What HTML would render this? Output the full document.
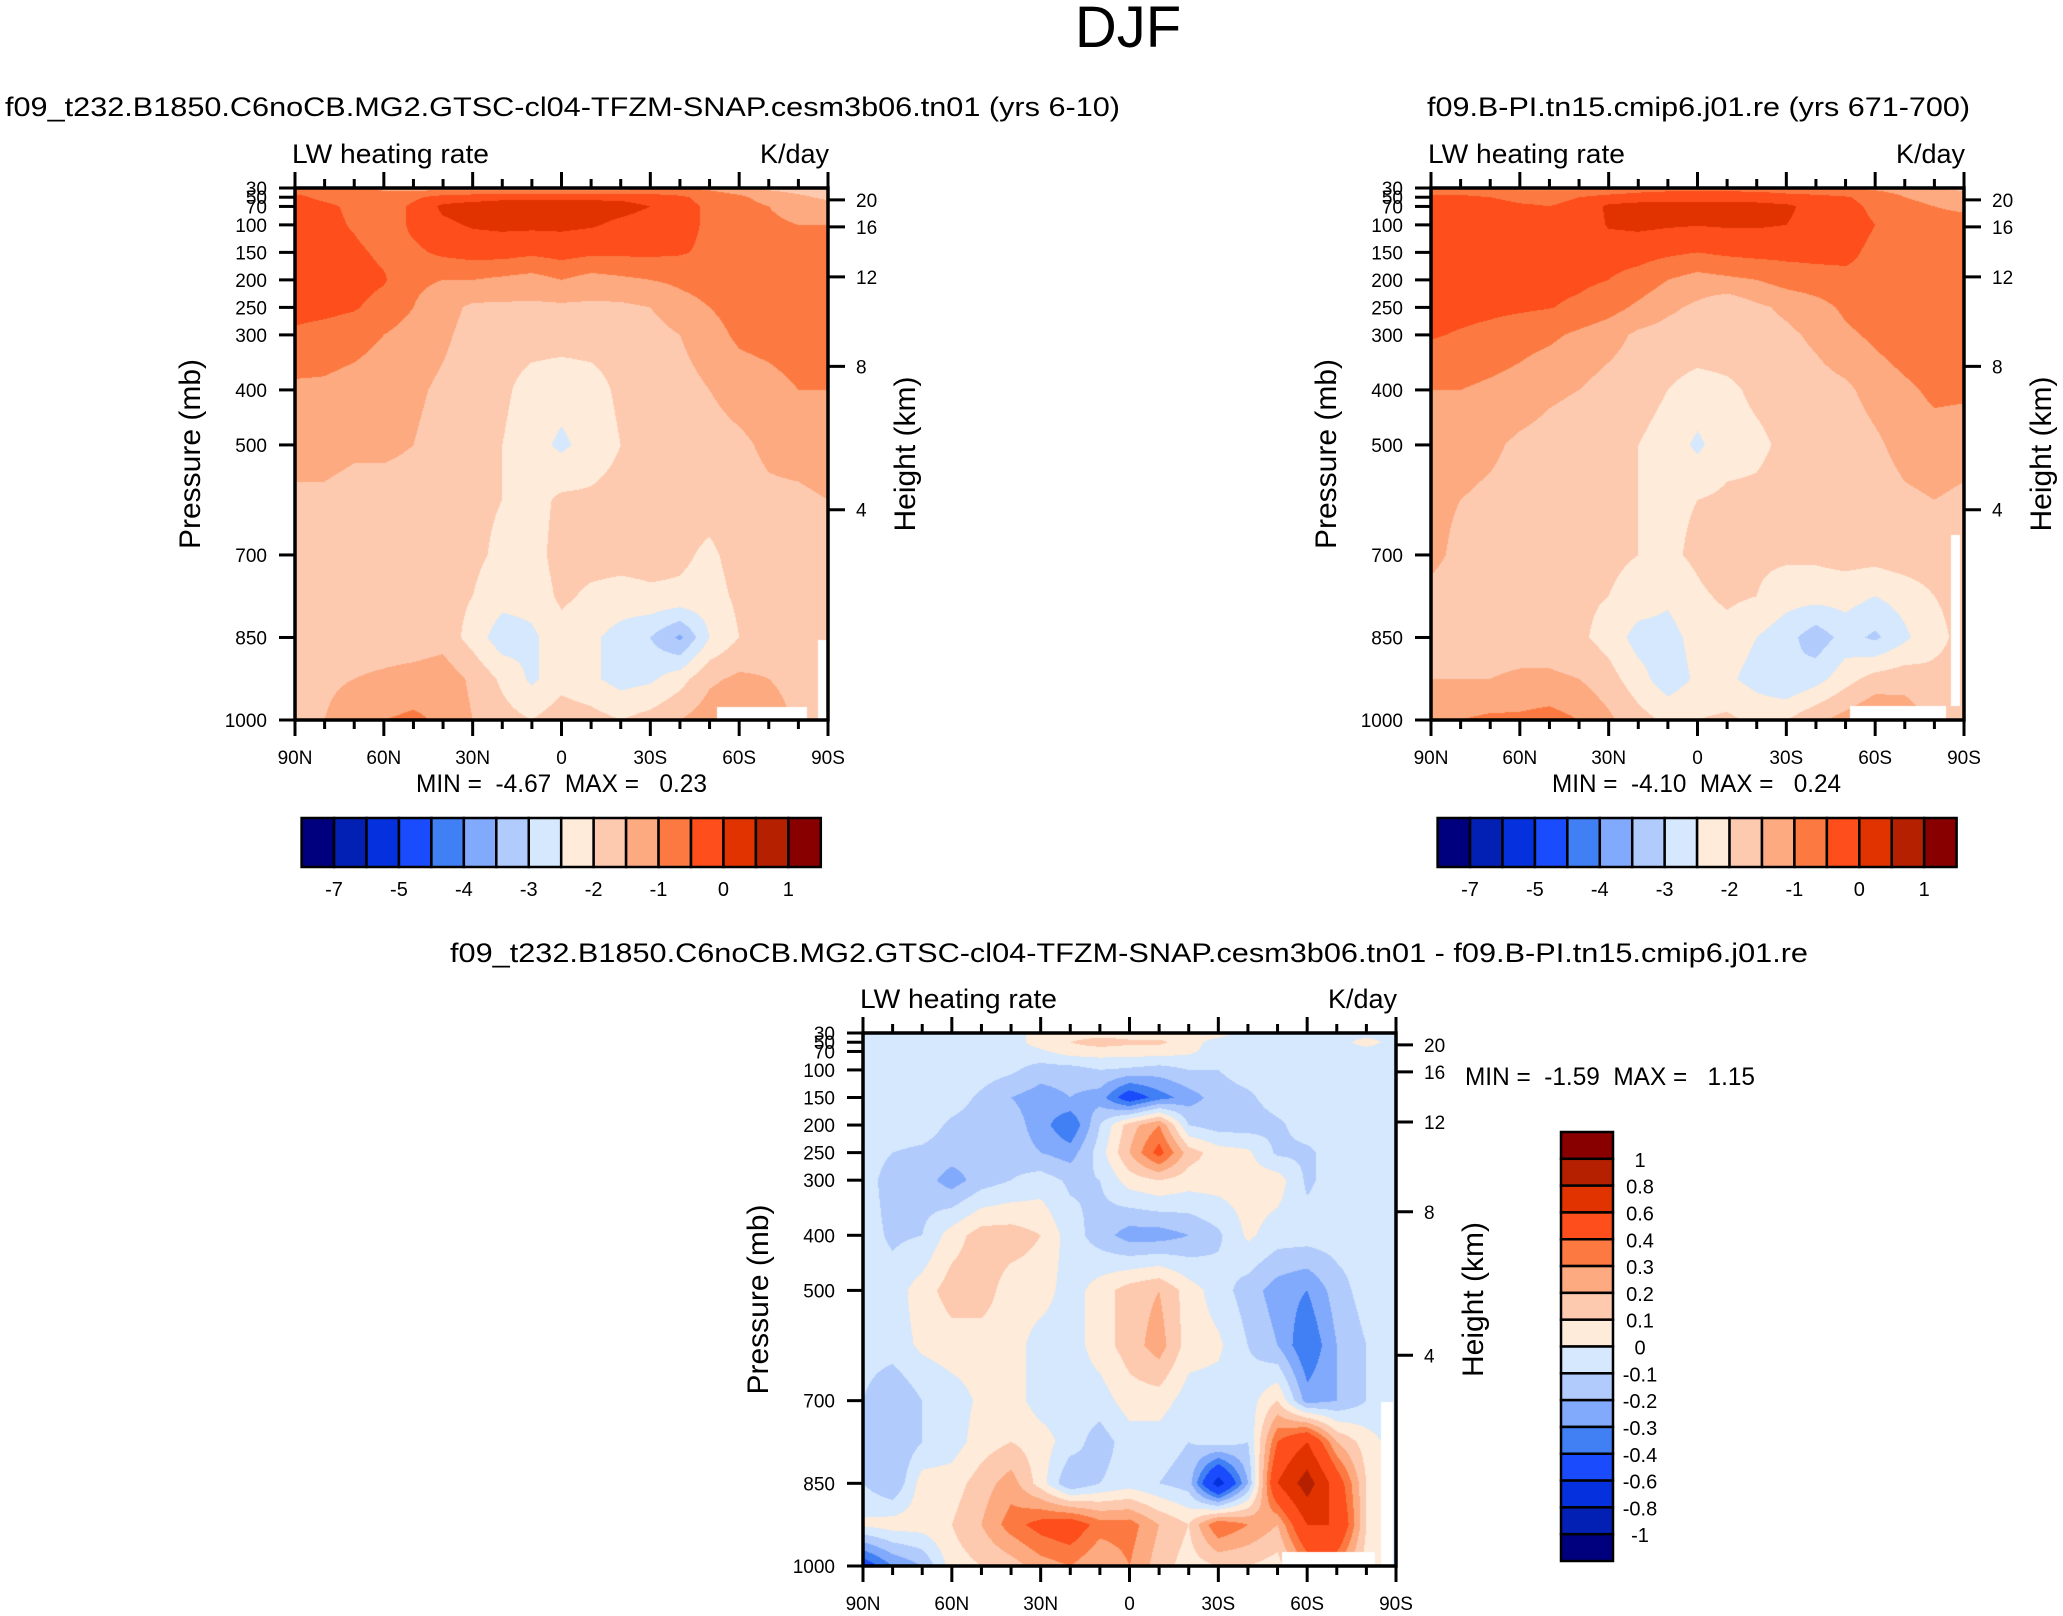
<!DOCTYPE html>
<html><head><meta charset="utf-8">
<style>
html,body{margin:0;padding:0;background:#fff;}
#root{position:relative;width:2063px;height:1616px;overflow:hidden;background:#fff;}
canvas{position:absolute;}
svg{position:absolute;left:0;top:0;}
text{font-family:"Liberation Sans",Arial,sans-serif;fill:#000;white-space:pre;}
</style></head>
<body>
<div id="root">
<canvas id="c1"></canvas>
<canvas id="c2"></canvas>
<canvas id="c3"></canvas>
<svg id="ov" width="2063" height="1616"></svg>
</div>
<script>
// ---- data ----
const lats = [90,80,70,60,50,40,30,20,10,0,-10,-20,-30,-40,-50,-60,-70,-80,-90];
const plevs = [30,50,70,100,150,200,250,300,400,500,600,700,775,850,925,1000];
const colors = ['#00007f','#0220b4','#0530de','#1a4bfd','#4180f4','#82aafc','#b1cbfc','#d5e8fd','#feebd9','#fdcab0','#fdaa80','#fc7a42','#fd4e1b','#e03300','#b52100','#880000'];
const levelsAbs = [-7,-6,-5,-4.5,-4,-3.5,-3,-2.5,-2,-1.5,-1,-0.5,0,0.5,1];
const levelsDiff = [-1,-0.8,-0.6,-0.4,-0.3,-0.2,-0.1,0,0.1,0.2,0.3,0.4,0.6,0.8,1];
const cbLabelsAbs = ['-7','','-5','','-4','','-3','','-2','','-1','','0','','1'];
const cbLabelsDiff = ['1','0.8','0.6','0.4','0.3','0.2','0.1','0','-0.1','-0.2','-0.3','-0.4','-0.6','-0.8','-1'];
const xTickLabels = ['90N','60N','30N','0','30S','60S','90S'];
const pTicks = [30,50,70,100,150,200,250,300,400,500,700,850,1000];
const hTicks = [20,16,12,8,4];
const hTickFrac = [9,29.5,67.5,135.5,244.3];

const field1 = [
[-0.7,-0.7,-0.8,-1.1,-1.2,-1.2,-1.2,-1.2,-1.2,-1.2,-1.2,-1.2,-1.1,-1.0,-1.1,-1.3,-1.6,-1.7,-1.8],
[-0.4,-0.6,-0.7,-0.8,-0.6,-0.3,-0.2,-0.1,-0.1,-0.1,-0.1,-0.1,-0.2,-0.4,-0.7,-0.9,-1.2,-1.4,-1.6],
[-0.3,-0.4,-0.6,-0.8,-0.4,0.1,0.2,0.2,0.2,0.2,0.2,0.15,0.0,-0.3,-0.6,-0.8,-1.0,-1.2,-1.3],
[-0.3,-0.35,-0.55,-0.8,-0.4,-0.1,0.05,0.1,0.1,0.1,0.05,-0.1,-0.2,-0.3,-0.6,-0.8,-0.9,-1.0,-1.0],
[-0.3,-0.3,-0.4,-0.6,-0.6,-0.4,-0.3,-0.3,-0.4,-0.3,-0.4,-0.4,-0.4,-0.45,-0.6,-0.7,-0.8,-0.8,-0.8],
[-0.2,-0.2,-0.3,-0.45,-0.9,-1.0,-1.0,-1.1,-1.2,-1.0,-1.2,-1.1,-1.0,-0.9,-0.8,-0.7,-0.7,-0.7,-0.7],
[-0.3,-0.35,-0.45,-0.7,-1.0,-1.3,-1.6,-1.6,-1.6,-1.6,-1.6,-1.6,-1.5,-1.2,-1.0,-0.8,-0.7,-0.7,-0.7],
[-0.6,-0.7,-0.8,-1.0,-1.2,-1.4,-1.7,-1.8,-1.8,-1.8,-1.8,-1.8,-1.7,-1.5,-1.2,-0.9,-0.8,-0.7,-0.7],
[-1.1,-1.1,-1.2,-1.3,-1.4,-1.6,-1.8,-1.9,-2.2,-2.3,-2.2,-1.9,-1.8,-1.7,-1.5,-1.3,-1.2,-1.0,-1.0],
[-1.3,-1.3,-1.4,-1.4,-1.5,-1.7,-1.8,-2.0,-2.3,-2.6,-2.3,-2.0,-1.9,-1.8,-1.7,-1.6,-1.4,-1.3,-1.2],
[-1.6,-1.6,-1.7,-1.7,-1.7,-1.8,-1.9,-2.0,-2.2,-1.9,-1.9,-1.8,-1.8,-1.8,-1.8,-1.7,-1.6,-1.6,-1.5],
[-1.6,-1.7,-1.8,-1.8,-1.8,-1.8,-1.9,-2.1,-2.2,-1.8,-1.8,-1.8,-1.8,-1.9,-2.1,-1.8,-1.7,-1.6,-1.7],
[-1.7,-1.8,-1.8,-1.8,-1.8,-1.8,-2.0,-2.3,-2.3,-1.9,-2.1,-2.2,-2.1,-2.1,-2.2,-1.9,-1.8,-1.7,-1.7],
[-1.8,-1.8,-1.8,-1.8,-1.8,-1.7,-2.2,-2.8,-2.6,-2.2,-2.4,-2.7,-3.0,-3.6,-2.5,-2.0,-1.8,-1.7,-1.7],
[-1.6,-1.6,-1.5,-1.4,-1.3,-1.2,-1.6,-2.1,-2.6,-2.2,-2.4,-2.7,-2.6,-2.2,-1.6,-1.4,-1.5,-1.7,-1.7],
[-1.7,-1.5,-1.2,-1.0,-0.9,-1.1,-1.5,-1.8,-2.0,-1.7,-1.8,-2.0,-1.8,-1.5,-1.2,-1.0,-1.2,-1.6,-1.7]];

const field2 = [
[-0.8,-0.8,-0.9,-1.1,-1.1,-1.1,-1.0,-0.8,-0.7,-0.7,-0.7,-0.7,-0.8,-0.9,-1.0,-1.1,-1.2,-1.5,-1.6],
[-0.4,-0.4,-0.5,-0.6,-0.6,-0.5,-0.3,-0.2,-0.15,-0.15,-0.15,-0.2,-0.3,-0.35,-0.45,-0.7,-1.0,-1.2,-1.3],
[-0.3,-0.3,-0.35,-0.45,-0.5,-0.4,0.1,0.15,0.15,0.15,0.15,0.15,0.1,-0.2,-0.35,-0.6,-0.8,-1.0,-1.1],
[-0.3,-0.3,-0.35,-0.45,-0.45,-0.4,0.05,0.1,0.05,0.02,0.05,0.05,0.0,-0.2,-0.3,-0.5,-0.7,-0.8,-0.8],
[-0.3,-0.3,-0.3,-0.35,-0.35,-0.35,-0.3,-0.3,-0.4,-0.5,-0.4,-0.35,-0.35,-0.35,-0.4,-0.6,-0.7,-0.7,-0.7],
[-0.2,-0.25,-0.3,-0.3,-0.35,-0.4,-0.5,-0.7,-1.0,-1.2,-1.1,-1.0,-0.8,-0.7,-0.6,-0.6,-0.6,-0.6,-0.6],
[-0.3,-0.33,-0.38,-0.42,-0.48,-0.6,-0.8,-1.1,-1.4,-1.6,-1.9,-1.6,-1.4,-1.2,-0.9,-0.7,-0.6,-0.6,-0.6],
[-0.45,-0.55,-0.65,-0.8,-0.9,-1.1,-1.3,-1.6,-1.7,-1.7,-1.7,-1.7,-1.6,-1.4,-1.1,-0.9,-0.7,-0.6,-0.6],
[-1.0,-1.0,-1.1,-1.2,-1.4,-1.5,-1.7,-1.8,-2.0,-2.2,-2.1,-1.9,-1.8,-1.7,-1.6,-1.3,-1.1,-0.9,-0.9],
[-1.2,-1.3,-1.4,-1.6,-1.7,-1.8,-1.9,-2.0,-2.2,-2.6,-2.2,-2.1,-1.9,-1.8,-1.8,-1.6,-1.3,-1.2,-1.3],
[-1.4,-1.5,-1.6,-1.7,-1.8,-1.9,-1.9,-2.0,-2.1,-2.0,-1.9,-1.9,-1.8,-1.8,-1.8,-1.8,-1.6,-1.5,-1.6],
[-1.4,-1.6,-1.7,-1.8,-1.8,-1.8,-1.9,-2.0,-2.1,-1.9,-1.6,-1.9,-1.9,-1.9,-1.8,-1.8,-1.7,-1.7,-1.8],
[-1.6,-1.7,-1.8,-1.8,-1.9,-1.9,-2.0,-2.2,-2.4,-2.1,-1.9,-2.0,-2.3,-2.3,-2.3,-2.5,-2.3,-2.0,-1.9],
[-1.7,-1.8,-1.8,-1.8,-1.8,-1.9,-2.2,-2.7,-2.7,-2.3,-2.2,-2.5,-2.8,-3.3,-2.8,-3.1,-2.6,-2.1,-1.9],
[-1.5,-1.5,-1.5,-1.4,-1.4,-1.5,-1.8,-2.3,-2.8,-2.4,-2.4,-2.7,-3.0,-2.7,-2.2,-1.8,-1.7,-1.9,-1.9],
[-1.1,-1.0,-0.9,-0.9,-0.8,-1.0,-1.4,-1.8,-2.1,-2.0,-1.9,-2.1,-2.0,-1.6,-1.3,-1.0,-1.2,-1.6,-1.8]];

const field3 = [
[-0.05,-0.05,-0.05,-0.05,-0.05,-0.05,0.05,0.05,0.05,0.05,0.05,0.05,0.05,-0.05,-0.05,-0.05,-0.05,-0.05,-0.05],
[-0.05,-0.05,-0.05,-0.05,-0.05,-0.05,0.05,0.1,0.15,0.12,0.12,0.05,-0.05,-0.05,-0.05,-0.05,-0.05,0.05,-0.05],
[-0.05,-0.05,-0.05,-0.05,-0.05,-0.05,-0.02,0.05,0.05,0.05,0.05,0.02,-0.05,-0.05,-0.05,-0.05,-0.05,-0.05,-0.05],
[-0.05,-0.05,-0.05,-0.05,-0.05,-0.08,-0.15,-0.15,-0.1,-0.12,-0.15,-0.1,-0.1,-0.05,-0.05,-0.05,-0.05,-0.05,-0.05],
[-0.05,-0.05,-0.05,-0.05,-0.12,-0.2,-0.25,-0.2,-0.25,-0.5,-0.35,-0.25,-0.15,-0.12,-0.05,-0.05,-0.05,-0.05,-0.05],
[-0.05,-0.05,-0.05,-0.12,-0.15,-0.15,-0.25,-0.4,-0.1,0.15,0.3,-0.1,-0.15,-0.15,-0.12,-0.05,-0.05,-0.05,-0.05],
[-0.05,-0.1,-0.12,-0.15,-0.15,-0.15,-0.2,-0.25,-0.05,0.2,0.45,0.15,0.05,0.02,-0.12,-0.12,-0.05,-0.05,-0.05],
[-0.05,-0.15,-0.15,-0.25,-0.15,-0.1,-0.05,-0.12,-0.1,0.05,0.1,0.05,0.05,0.05,0.05,-0.12,-0.05,-0.05,-0.05],
[-0.05,-0.12,-0.1,0.05,0.15,0.15,0.1,-0.05,-0.15,-0.25,-0.25,-0.2,-0.12,0.02,-0.05,-0.05,-0.05,-0.05,-0.05],
[-0.05,-0.05,0.05,0.15,0.15,0.05,0.05,-0.05,0.05,0.15,0.2,0.05,-0.05,-0.15,-0.25,-0.3,-0.15,-0.05,-0.05],
[-0.05,-0.05,0.02,0.05,0.05,0.05,-0.05,-0.05,0.05,0.15,0.25,0.05,0.02,-0.1,-0.2,-0.4,-0.2,-0.1,-0.05],
[-0.1,-0.2,-0.1,-0.05,0.02,0.05,-0.05,-0.05,-0.05,0.05,0.05,-0.05,-0.05,-0.05,0.1,-0.25,-0.2,-0.1,-0.05],
[-0.1,-0.2,-0.1,-0.05,0.05,0.1,0.05,-0.05,-0.15,-0.05,-0.05,-0.1,-0.05,-0.1,0.4,0.6,0.2,0.05,-0.05],
[-0.1,-0.2,0.05,0.05,0.15,0.25,0.05,-0.2,-0.1,-0.05,-0.1,-0.15,-0.7,-0.2,0.6,0.9,0.5,0.1,-0.05],
[0.02,0.05,0.05,0.1,0.2,0.35,0.45,0.5,0.35,0.35,0.2,0.1,0.4,0.3,0.2,0.6,0.6,0.1,-0.05],
[-0.5,-0.3,-0.2,0.05,0.1,0.15,0.25,0.3,0.2,0.3,0.15,0.05,0.1,0.1,0.05,0.3,0.3,0.05,-0.05]];

// ---- layout ----
const panels = [
 {id:'c1', x0:295, y0:188, w:533, h:532, field:field1, levels:levelsAbs, name:'panel1',
  title:'f09_t232.B1850.C6noCB.MG2.GTSC-cl04-TFZM-SNAP.cesm3b06.tn01 (yrs 6-10)', tx:5, tw:1115, ty:116,
  minmax:'MIN =  -4.67  MAX =   0.23', mx:416, mw:291, my:792,
  missing:[[717,707,90,13],[818,640,10,80]], cb:{x:301.6,y:818,w:519.2,h:49,lab:896}},
 {id:'c2', x0:1431, y0:188, w:533, h:532, field:field2, levels:levelsAbs, name:'panel2',
  title:'f09.B-PI.tn15.cmip6.j01.re (yrs 671-700)', tx:1427, tw:543, ty:116,
  minmax:'MIN =  -4.10  MAX =   0.24', mx:1552, mw:289, my:792,
  missing:[[1850,706,96,14],[1951,535,9,171]], cb:{x:1437.6,y:818,w:519,h:49,lab:896}},
 {id:'c3', x0:863, y0:1033, w:533, h:533, field:field3, levels:levelsDiff, name:'diff-panel',
  title:'f09_t232.B1850.C6noCB.MG2.GTSC-cl04-TFZM-SNAP.cesm3b06.tn01 - f09.B-PI.tn15.cmip6.j01.re', tx:450, tw:1358, ty:962,
  minmax:'MIN =  -1.59  MAX =   1.15', mx:1465, mw:290, my:1085,
  missing:[[1282,1552,93,14],[1381,1402,12,164]], cbv:{x:1561,y:1132,w:52,h:429}}
];

function pFrac(p){
  let f;
  if(p>=100) f = 28 + (p-100)*376/900;
  else if(p>=70) f = 14 + (p-70)*14/30;
  else if(p>=50) f = 7 + (p-50)*7/20;
  else f = (p-30)*7/20;
  return f/404;
}
function xScale(P,lat){ return P.x0 + (90-lat)/180*P.w; }
function yScale(P,p){ return P.y0 + pFrac(p)*P.h; }

function binOf(v,levels){ let b=0; for(const l of levels){ if(v>=l) b++; } return b; }
function hex(c){ return [parseInt(c.slice(1,3),16),parseInt(c.slice(3,5),16),parseInt(c.slice(5,7),16)]; }
const rgb = colors.map(hex);

panels.forEach(P=>{
  const cv=document.getElementById(P.id);
  cv.width=P.w; cv.height=P.h;
  cv.style.left=P.x0+'px'; cv.style.top=P.y0+'px';
  const ctx=cv.getContext('2d');
  const img=ctx.createImageData(P.w,P.h);
  const rowY = plevs.map(p=>pFrac(p)*P.h);
  const colX = lats.map(l=>(90-l)/180*P.w);
  for(let py=0;py<P.h;py++){
    const y=py+0.5;
    let r=0; while(r<rowY.length-2 && y>rowY[r+1]) r++;
    let ty=(y-rowY[r])/(rowY[r+1]-rowY[r]); ty=Math.max(0,Math.min(1,ty));
    for(let px=0;px<P.w;px++){
      const x=px+0.5;
      let c=Math.min(lats.length-2,Math.floor(x/(P.w/18)));
      let tx=(x-colX[c])/(colX[c+1]-colX[c]);
      const F=P.field;
      const v=(F[r][c]*(1-tx)+F[r][c+1]*tx)*(1-ty)+(F[r+1][c]*(1-tx)+F[r+1][c+1]*tx)*ty;
      const col=rgb[binOf(v,P.levels)];
      const i=(py*P.w+px)*4;
      img.data[i]=col[0];img.data[i+1]=col[1];img.data[i+2]=col[2];img.data[i+3]=255;
    }
  }
  ctx.putImageData(img,0,0);
  ctx.fillStyle='#fff';
  P.missing.forEach(m=>ctx.fillRect(m[0]-P.x0,m[1]-P.y0,m[2],m[3]));
});

// ---- overlay ----
const NS='http://www.w3.org/2000/svg';
const ov=document.getElementById('ov');
function mk(tag,attrs,parent){
  const e=document.createElementNS(NS,tag);
  for(const k in attrs) e.setAttribute(k,attrs[k]);
  (parent||ov).appendChild(e); return e;
}
function txt(s,attrs,parent){ const e=mk('text',attrs,parent); e.textContent=s; return e; }

const djf=txt('DJF',{x:1128,y:47,'font-size':58,'text-anchor':'middle'});



panels.forEach(P=>{
  const g=mk('g',{});
  
  
  const t=txt(P.title,{x:P.tx,y:P.ty,'font-size':27,textLength:P.tw,lengthAdjust:'spacingAndGlyphs'},g);
  
  
  const lw=txt('LW heating rate',{x:P.x0-3,y:P.y0-25,'font-size':27,textLength:197,lengthAdjust:'spacingAndGlyphs'},g);
  
  
  const kd=txt('K/day',{x:P.x0+P.w+1,y:P.y0-25,'font-size':27,'text-anchor':'end'},g);
  
  
  const x1=P.x0, x2=P.x0+P.w, y1=P.y0, y2=P.y0+P.h;
  for(let lat=90;lat>=-90;lat-=10){
    const x=xScale(P,lat); const major=(lat%30===0);
    const L=major?16:9;
    mk('line',{x1:x,y1:y2,x2:x,y2:y2+L,stroke:'#000','stroke-width':3},g);
    mk('line',{x1:x,y1:y1,x2:x,y2:y1-L,stroke:'#000','stroke-width':3},g);
  }
  xTickLabels.forEach((s,i)=>{
    const lat=90-i*30;
    const e=txt(s,{x:xScale(P,lat),y:y2+44,'font-size':19,'text-anchor':'middle'},g);
    
    
  });
  pTicks.forEach(p=>{
    const y=yScale(P,p);
    mk('line',{x1:x1-16,y1:y,x2:x1,y2:y,stroke:'#000','stroke-width':3},g);
    const e=txt(String(p),{x:x1-28,y:y+7,'font-size':19,'text-anchor':'end'},g);
    
    
  });
  hTicks.forEach((h,i)=>{
    const y=P.y0+hTickFrac[i]/404*P.h;
    mk('line',{x1:x2,y1:y,x2:x2+17,y2:y,stroke:'#000','stroke-width':3},g);
    const e=txt(String(h),{x:x2+28,y:y+7,'font-size':19},g);
    
    
  });
  mk('rect',{x:x1,y:y1,width:P.w,height:P.h,fill:'none',stroke:'#000','stroke-width':3.5},g);
  const cy=(y1+y2)/2;
  const yl=txt('Pressure (mb)',{x:0,y:0,'font-size':30,'text-anchor':'middle',transform:`translate(${x1-95},${cy}) rotate(-90)`},g);
  
  
  const hl=txt('Height (km)',{x:0,y:0,'font-size':30,'text-anchor':'middle',transform:`translate(${x2+87},${cy}) rotate(-90)`},g);
  
  
  const mm=txt(P.minmax,{x:P.mx,y:P.my,'font-size':25,textLength:P.mw,lengthAdjust:'spacingAndGlyphs'},g);
  
  
  if(P.cb){
    const cb=P.cb, bw=cb.w/16;
    const cg=mk('g',{},g);
    
    
    colors.forEach((c,i)=>{
      mk('rect',{x:cb.x+i*bw,y:cb.y,width:bw,height:cb.h,fill:c,stroke:'#000','stroke-width':2.5},cg);
    });
    cbLabelsAbs.forEach((s,i)=>{
      if(!s) return;
      const e=txt(s,{x:cb.x+(i+1)*bw,y:cb.lab,'font-size':20,'text-anchor':'middle'},cg);
      
      
    });
  }
  if(P.cbv){
    const cb=P.cbv, bh=cb.h/16;
    const cg=mk('g',{},g);
    
    
    colors.slice().reverse().forEach((c,i)=>{
      mk('rect',{x:cb.x,y:cb.y+i*bh,width:cb.w,height:bh,fill:c,stroke:'#000','stroke-width':2.5},cg);
    });
    cbLabelsDiff.forEach((s,i)=>{
      const e=txt(s,{x:1640,y:cb.y+(i+1)*bh+8,'font-size':20,'text-anchor':'middle'},cg);
      
      
    });
  }
});
</script>
</body></html>
